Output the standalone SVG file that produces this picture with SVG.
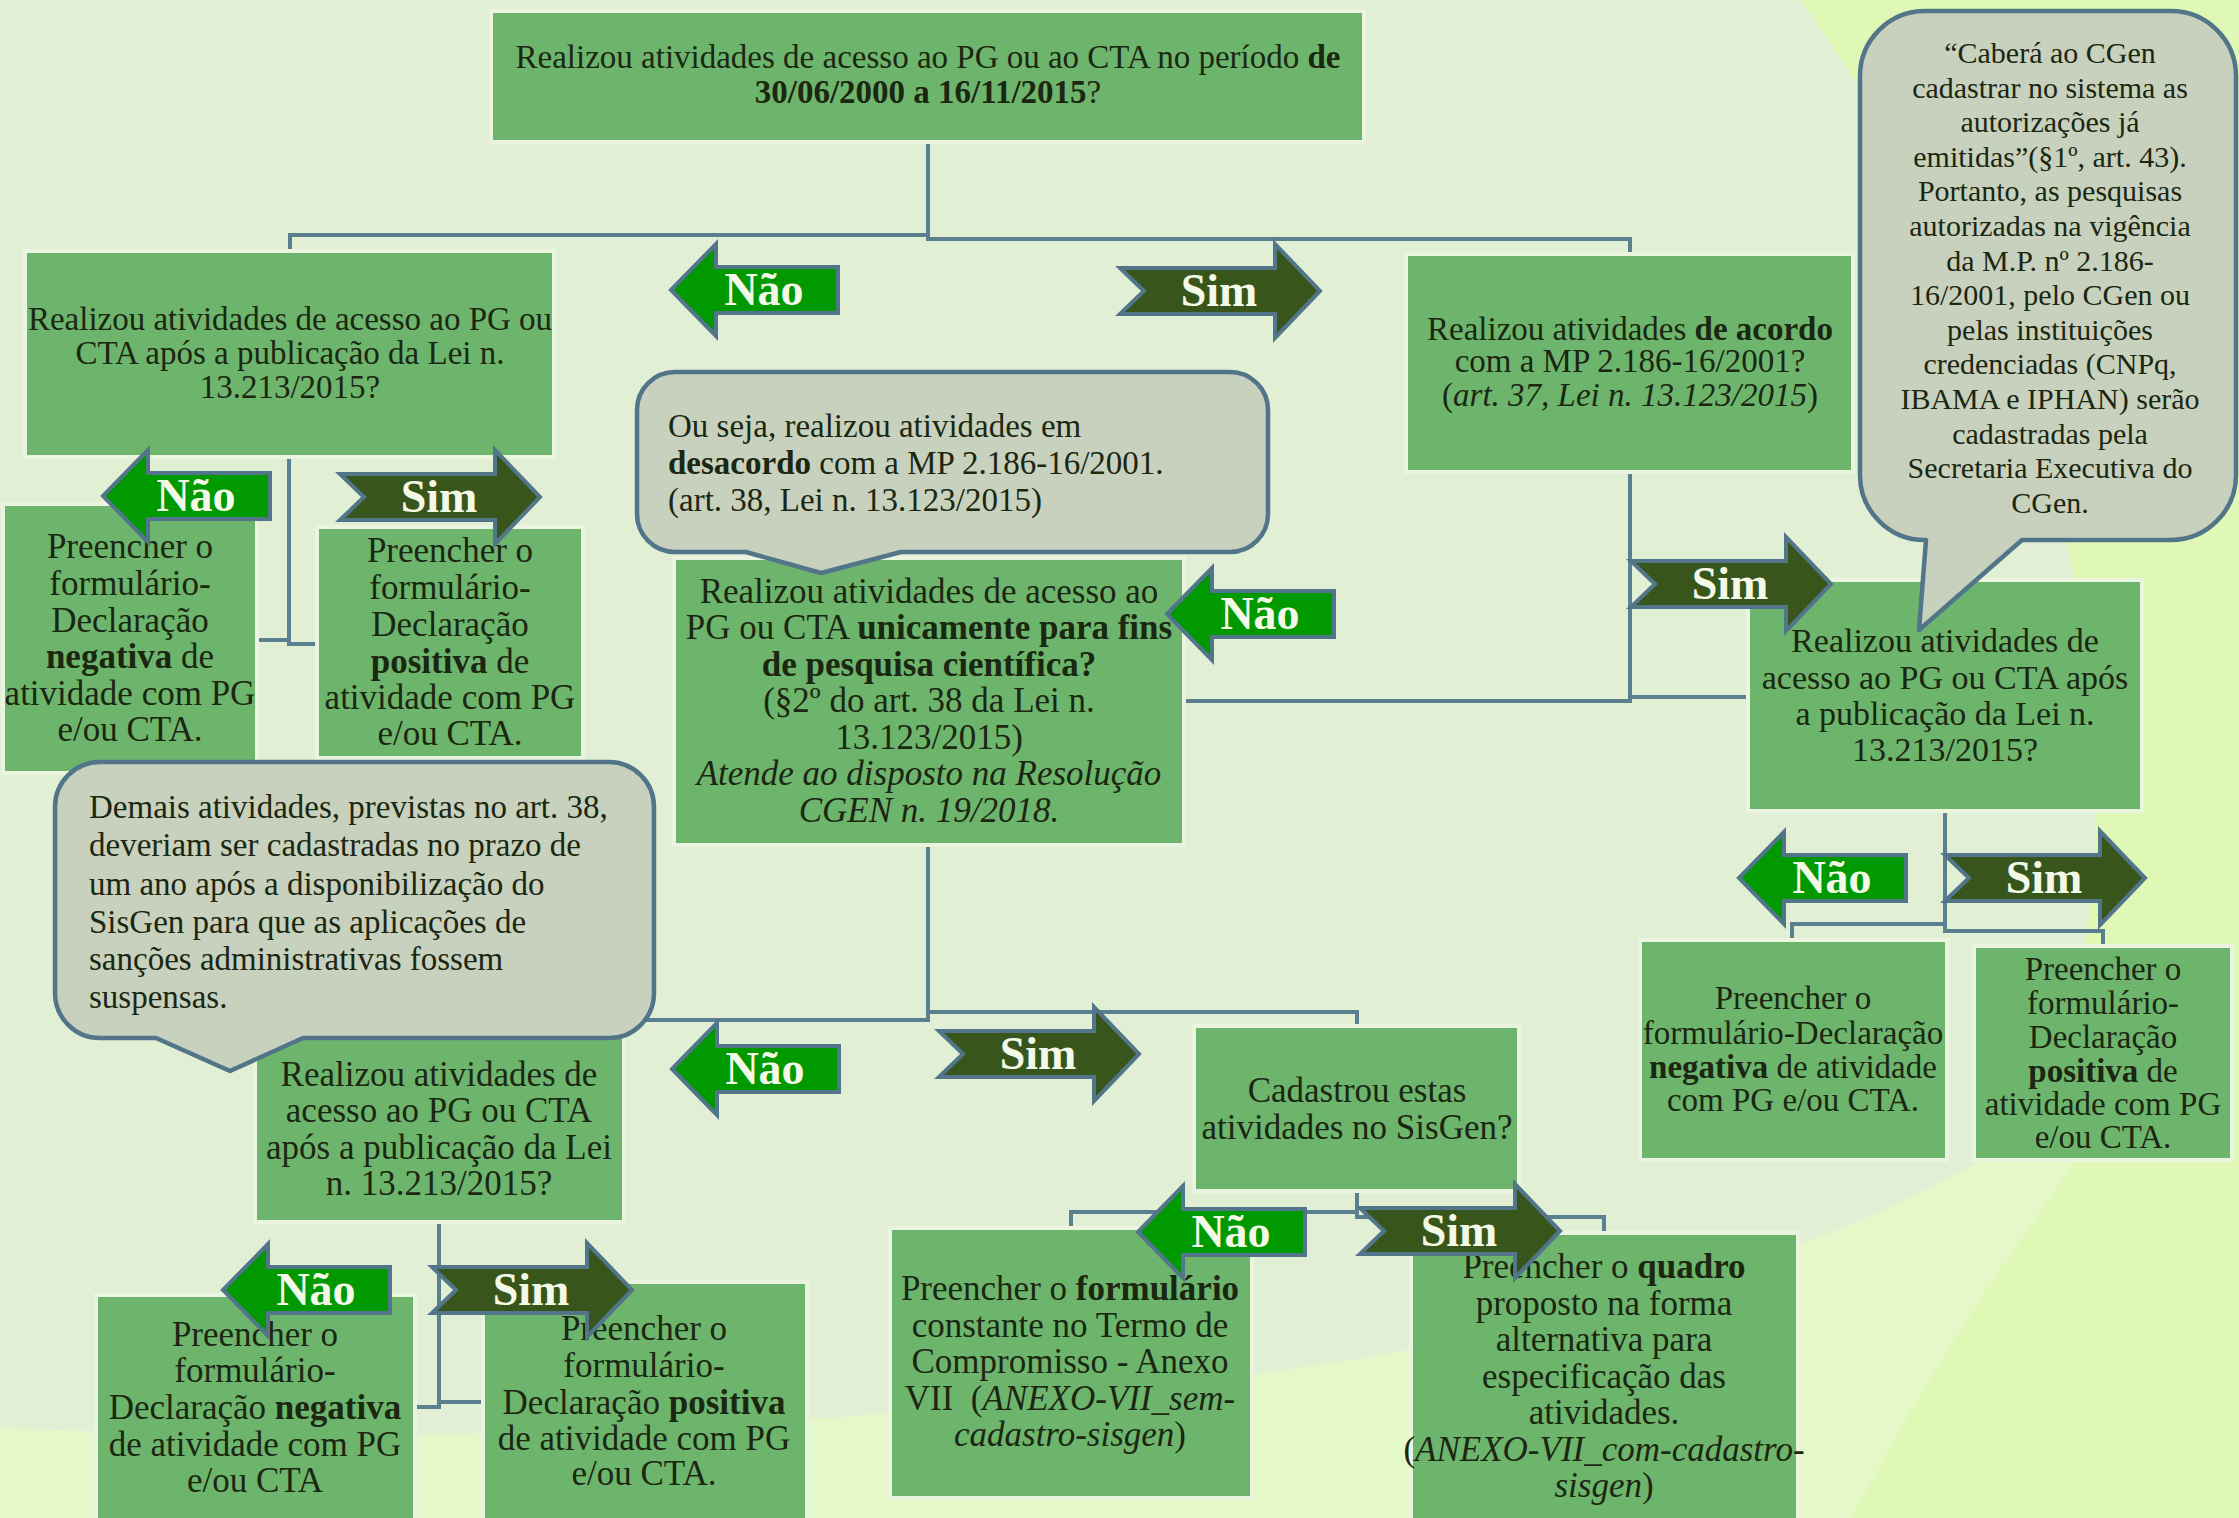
<svg xmlns="http://www.w3.org/2000/svg" xmlns:xlink="http://www.w3.org/1999/xlink" width="2239" height="1518" viewBox="0 0 2239 1518">
<style>
.box{fill:#6db56d;stroke:#eaf5df;stroke-width:4}
.call{fill:#c8d1bd;stroke:#52758a;stroke-width:4.5;stroke-linejoin:round}
.t{font-family:"Liberation Serif","Times New Roman",serif;fill:#1b2711;text-anchor:middle}
.l{text-anchor:start}
.b{font-weight:bold}
.i{font-style:italic}
#connectors path{fill:none;stroke:#5a7f8f;stroke-width:4}
.nao{fill:#009a00;stroke:#52758a;stroke-width:4;stroke-linejoin:miter}
.sim{fill:#38561c;stroke:#52758a;stroke-width:4;stroke-linejoin:miter}
.lbl{font-family:"Liberation Serif","Times New Roman",serif;font-weight:bold;font-size:46px;fill:#f3f9e6;text-anchor:middle}
</style>
<defs>
<path id="naoShape" d="M0,0 L45,-46 L45,-23 L167,-23 L167,23 L45,23 L45,46 Z"/>
<path id="simShape" d="M0,-23 L155,-23 L155,-47 L200,0 L155,47 L155,23 L0,23 L24,0 Z"/>
</defs>
<g id="background">
<rect width="2239" height="1518" fill="#e5f8ca"/>
<path fill="#e0f8b6" d="M1790,0 H2239 V1518 H1852 C1950,1330 2030,1230 2075,1160 Z"/>
<path fill="#e1f0d5" d="M0,0 H1800 C1960,220 2080,480 2095,720 C2105,930 2070,1080 1980,1160 C1850,1240 1600,1320 1350,1360 C900,1430 450,1445 0,1428 Z"/>
</g>
<g id="connectors">
<path d="M290,252 V235 H928"/>
<path d="M928,142 V239 H1630 V254"/>
<path d="M289,457 V644 H318"/>
<path d="M258,640 H289"/>
<path d="M1630,472 V701 H1186"/>
<path d="M1630,697 H1748"/>
<path d="M1945,812 V931 H2103 V946"/>
<path d="M1792,940 V924 H1945"/>
<path d="M928,845 V1020 H439 V1030"/>
<path d="M928,1012 H1357 V1026"/>
<path d="M439,1222 V1402 H483"/>
<path d="M415,1407 H439 V1400"/>
<path d="M1357,1191 V1217 H1604 V1233"/>
<path d="M1071,1228 V1212 H1357"/>
</g>
<g id="n-top">
<rect class="box" x="491" y="11" width="873" height="131"/>
<text class="t" font-size="33" x="928" y="68">Realizou atividades de acesso ao PG ou ao CTA no período <tspan class="b">de</tspan></text>
<text class="t" font-size="33" x="928" y="103"><tspan class="b">30/06/2000 a 16/11/2015</tspan>?</text>
</g>
<g id="n-l1">
<rect class="box" x="25" y="251" width="529" height="206"/>
<text class="t" font-size="33" x="290" y="330">Realizou atividades de acesso ao PG ou</text>
<text class="t" font-size="33" x="290" y="364">CTA após a publicação da Lei n.</text>
<text class="t" font-size="33" x="290" y="398">13.213/2015?</text>
</g>
<g id="n-r1">
<rect class="box" x="1406" y="254" width="447" height="218"/>
<text class="t" font-size="33" x="1630" y="340">Realizou atividades <tspan class="b">de acordo</tspan></text>
<text class="t" font-size="33" x="1630" y="372">com a MP 2.186-16/2001?</text>
<text class="t" font-size="33" x="1630" y="406">(<tspan class="i">art. 37, Lei n. 13.123/2015</tspan>)</text>
</g>
<g id="n-m1">
<rect class="box" x="674" y="558" width="510" height="287"/>
<text class="t" font-size="35" x="929" y="603">Realizou atividades de acesso ao</text>
<text class="t" font-size="35" x="929" y="639">PG ou CTA <tspan class="b">unicamente para fins</tspan></text>
<text class="t" font-size="35" x="929" y="676"><tspan class="b">de pesquisa científica?</tspan></text>
<text class="t" font-size="35" x="929" y="712">(§2º do art. 38 da Lei n.</text>
<text class="t" font-size="35" x="929" y="749">13.123/2015)</text>
<text class="t i" font-size="35" x="929" y="785">Atende ao disposto na Resolução</text>
<text class="t i" font-size="35" x="929" y="822">CGEN n. 19/2018.</text>
</g>
<g id="n-callout-mid">
<path class="call" d="M675,372 H1230 A38,38 0 0 1 1268,410 V514 A38,38 0 0 1 1230,552 H901 L821,573 L746,552 H675 A38,38 0 0 1 637,514 V410 A38,38 0 0 1 675,372 Z"/>
<text class="t l" font-size="33" x="668" y="437">Ou seja, realizou atividades em</text>
<text class="t l" font-size="33" x="668" y="474"><tspan class="b">desacordo</tspan> com a MP 2.186-16/2001.</text>
<text class="t l" font-size="33" x="668" y="511">(art. 38, Lei n. 13.123/2015)</text>
</g>
<g id="n-l2">
<rect class="box" x="3" y="504" width="254" height="269"/>
<text class="t" font-size="35" x="130" y="558">Preencher o</text>
<text class="t" font-size="35" x="130" y="595">formulário-</text>
<text class="t" font-size="35" x="130" y="632">Declaração</text>
<text class="t" font-size="35" x="130" y="668"><tspan class="b">negativa</tspan> de</text>
<text class="t" font-size="35" x="130" y="705">atividade com PG</text>
<text class="t" font-size="35" x="130" y="741">e/ou CTA.</text>
</g>
<g id="n-l3">
<rect class="box" x="317" y="527" width="266" height="231"/>
<text class="t" font-size="35" x="450" y="562">Preencher o</text>
<text class="t" font-size="35" x="450" y="599">formulário-</text>
<text class="t" font-size="35" x="450" y="636">Declaração</text>
<text class="t" font-size="35" x="450" y="673"><tspan class="b">positiva</tspan> de</text>
<text class="t" font-size="35" x="450" y="709">atividade com PG</text>
<text class="t" font-size="35" x="450" y="745">e/ou CTA.</text>
</g>
<g id="n-r2">
<rect class="box" x="1748" y="580" width="394" height="231"/>
<text class="t" font-size="34" x="1945" y="652">Realizou atividades de</text>
<text class="t" font-size="34" x="1945" y="689">acesso ao PG ou CTA após</text>
<text class="t" font-size="34" x="1945" y="725">a publicação da Lei n.</text>
<text class="t" font-size="34" x="1945" y="761">13.213/2015?</text>
</g>
<g id="n-callout-tr">
<path class="call" d="M1925,11 H2171 A65,65 0 0 1 2236,76 V475 A65,65 0 0 1 2171,540 H2022 L1919,630 L1926,540 A65,65 0 0 1 1860,475 V76 A65,65 0 0 1 1925,11 Z"/>
<text class="t" font-size="30" x="2050" y="63">“Caberá ao CGen</text>
<text class="t" font-size="30" x="2050" y="98">cadastrar no sistema as</text>
<text class="t" font-size="30" x="2050" y="132">autorizações já</text>
<text class="t" font-size="30" x="2050" y="167">emitidas”(§1º, art. 43).</text>
<text class="t" font-size="30" x="2050" y="201">Portanto, as pesquisas</text>
<text class="t" font-size="30" x="2050" y="236">autorizadas na vigência</text>
<text class="t" font-size="30" x="2050" y="271">da M.P. nº 2.186-</text>
<text class="t" font-size="30" x="2050" y="305">16/2001, pelo CGen ou</text>
<text class="t" font-size="30" x="2050" y="340">pelas instituições</text>
<text class="t" font-size="30" x="2050" y="374">credenciadas (CNPq,</text>
<text class="t" font-size="30" x="2050" y="409">IBAMA e IPHAN) serão</text>
<text class="t" font-size="30" x="2050" y="444">cadastradas pela</text>
<text class="t" font-size="30" x="2050" y="478">Secretaria Executiva do</text>
<text class="t" font-size="30" x="2050" y="513">CGen.</text>
</g>
<g id="n-r3">
<rect class="box" x="1640" y="940" width="307" height="220"/>
<text class="t" font-size="33" x="1793" y="1009">Preencher o</text>
<text class="t" font-size="33" x="1793" y="1044">formulário-Declaração</text>
<text class="t" font-size="33" x="1793" y="1078"><tspan class="b">negativa</tspan> de atividade</text>
<text class="t" font-size="33" x="1793" y="1111">com PG e/ou CTA.</text>
</g>
<g id="n-r4">
<rect class="box" x="1974" y="946" width="258" height="214"/>
<text class="t" font-size="33" x="2103" y="980">Preencher o</text>
<text class="t" font-size="33" x="2103" y="1014">formulário-</text>
<text class="t" font-size="33" x="2103" y="1048">Declaração</text>
<text class="t" font-size="33" x="2103" y="1082"><tspan class="b">positiva</tspan> de</text>
<text class="t" font-size="33" x="2103" y="1115">atividade com PG</text>
<text class="t" font-size="33" x="2103" y="1148">e/ou CTA.</text>
</g>
<g id="n-l4">
<rect class="box" x="255" y="1030" width="369" height="192"/>
<text class="t" font-size="35" x="439" y="1086">Realizou atividades de</text>
<text class="t" font-size="35" x="439" y="1122">acesso ao PG ou CTA</text>
<text class="t" font-size="35" x="439" y="1159">após a publicação da Lei</text>
<text class="t" font-size="35" x="439" y="1195">n. 13.213/2015?</text>
</g>
<g id="n-callout-bl">
<path class="call" d="M100,762 H609 A45,45 0 0 1 654,807 V993 A45,45 0 0 1 609,1038 H303 L230,1071 L156,1038 H100 A45,45 0 0 1 55,993 V807 A45,45 0 0 1 100,762 Z"/>
<text class="t l" font-size="33" x="89" y="818">Demais atividades, previstas no art. 38,</text>
<text class="t l" font-size="33" x="89" y="856">deveriam ser cadastradas no prazo de</text>
<text class="t l" font-size="33" x="89" y="895">um ano após a disponibilização do</text>
<text class="t l" font-size="33" x="89" y="933">SisGen para que as aplicações de</text>
<text class="t l" font-size="33" x="89" y="970">sanções administrativas fossem</text>
<text class="t l" font-size="33" x="89" y="1008">suspensas.</text>
</g>
<g id="n-l5">
<rect class="box" x="96" y="1295" width="319" height="240"/>
<text class="t" font-size="35" x="255" y="1346">Preencher o</text>
<text class="t" font-size="35" x="255" y="1382">formulário-</text>
<text class="t" font-size="35" x="255" y="1419">Declaração <tspan class="b">negativa</tspan></text>
<text class="t" font-size="35" x="255" y="1456">de atividade com PG</text>
<text class="t" font-size="35" x="255" y="1492">e/ou CTA</text>
</g>
<g id="n-l6">
<rect class="box" x="483" y="1282" width="324" height="250"/>
<text class="t" font-size="35" x="644" y="1340">Preencher o</text>
<text class="t" font-size="35" x="644" y="1377">formulário-</text>
<text class="t" font-size="35" x="644" y="1414">Declaração <tspan class="b">positiva</tspan></text>
<text class="t" font-size="35" x="644" y="1450">de atividade com PG</text>
<text class="t" font-size="35" x="644" y="1485">e/ou CTA.</text>
</g>
<g id="n-m2">
<rect class="box" x="1194" y="1026" width="325" height="165"/>
<text class="t" font-size="35" x="1357" y="1102">Cadastrou estas</text>
<text class="t" font-size="35" x="1357" y="1139">atividades no SisGen?</text>
</g>
<g id="n-m3">
<rect class="box" x="890" y="1228" width="362" height="270"/>
<text class="t" font-size="35" x="1070" y="1300">Preencher o <tspan class="b">formulário</tspan></text>
<text class="t" font-size="35" x="1070" y="1337">constante no Termo de</text>
<text class="t" font-size="35" x="1070" y="1373">Compromisso - Anexo</text>
<text class="t" font-size="35" x="1070" y="1410">VII&#160; (<tspan class="i">ANEXO-VII_sem-</tspan></text>
<text class="t" font-size="35" x="1070" y="1446"><tspan class="i">cadastro-sisgen</tspan>)</text>
</g>
<g id="n-m4">
<rect class="box" x="1411" y="1233" width="387" height="300"/>
<text class="t" font-size="35" x="1604" y="1278">Preencher o <tspan class="b">quadro</tspan></text>
<text class="t" font-size="35" x="1604" y="1315">proposto na forma</text>
<text class="t" font-size="35" x="1604" y="1351">alternativa para</text>
<text class="t" font-size="35" x="1604" y="1388">especificação das</text>
<text class="t" font-size="35" x="1604" y="1424">atividades.</text>
<text class="t" font-size="35" x="1604" y="1461">(<tspan class="i">ANEXO-VII_com-cadastro-</tspan></text>
<text class="t" font-size="35" x="1604" y="1497"><tspan class="i">sisgen</tspan>)</text>
</g>
<g id="labels">
<g id="a-nao-1"><use xlink:href="#naoShape" href="#naoShape" class="nao" x="671" y="290"/><text class="lbl" x="764" y="305">Não</text></g>
<g id="a-sim-1"><use xlink:href="#simShape" href="#simShape" class="sim" x="1120" y="291"/><text class="lbl" x="1219" y="306">Sim</text></g>
<g id="a-nao-2"><use xlink:href="#naoShape" href="#naoShape" class="nao" x="103" y="496"/><text class="lbl" x="196" y="511">Não</text></g>
<g id="a-sim-2"><use xlink:href="#simShape" href="#simShape" class="sim" x="340" y="497"/><text class="lbl" x="439" y="512">Sim</text></g>
<g id="a-nao-3"><use xlink:href="#naoShape" href="#naoShape" class="nao" x="1167" y="614"/><text class="lbl" x="1260" y="629">Não</text></g>
<g id="a-sim-3"><use xlink:href="#simShape" href="#simShape" class="sim" x="1631" y="584"/><text class="lbl" x="1730" y="599">Sim</text></g>
<g id="a-nao-4"><use xlink:href="#naoShape" href="#naoShape" class="nao" x="1739" y="878"/><text class="lbl" x="1832" y="893">Não</text></g>
<g id="a-sim-4"><use xlink:href="#simShape" href="#simShape" class="sim" x="1945" y="878"/><text class="lbl" x="2044" y="893">Sim</text></g>
<g id="a-nao-5"><use xlink:href="#naoShape" href="#naoShape" class="nao" x="672" y="1069"/><text class="lbl" x="765" y="1084">Não</text></g>
<g id="a-sim-5"><use xlink:href="#simShape" href="#simShape" class="sim" x="939" y="1054"/><text class="lbl" x="1038" y="1069">Sim</text></g>
<g id="a-nao-6"><use xlink:href="#naoShape" href="#naoShape" class="nao" x="223" y="1290"/><text class="lbl" x="316" y="1305">Não</text></g>
<g id="a-sim-6"><use xlink:href="#simShape" href="#simShape" class="sim" x="432" y="1290"/><text class="lbl" x="531" y="1305">Sim</text></g>
<g id="a-nao-7"><use xlink:href="#naoShape" href="#naoShape" class="nao" x="1138" y="1232"/><text class="lbl" x="1231" y="1247">Não</text></g>
<g id="a-sim-7"><use xlink:href="#simShape" href="#simShape" class="sim" x="1360" y="1231"/><text class="lbl" x="1459" y="1246">Sim</text></g>
</g>
</svg>
